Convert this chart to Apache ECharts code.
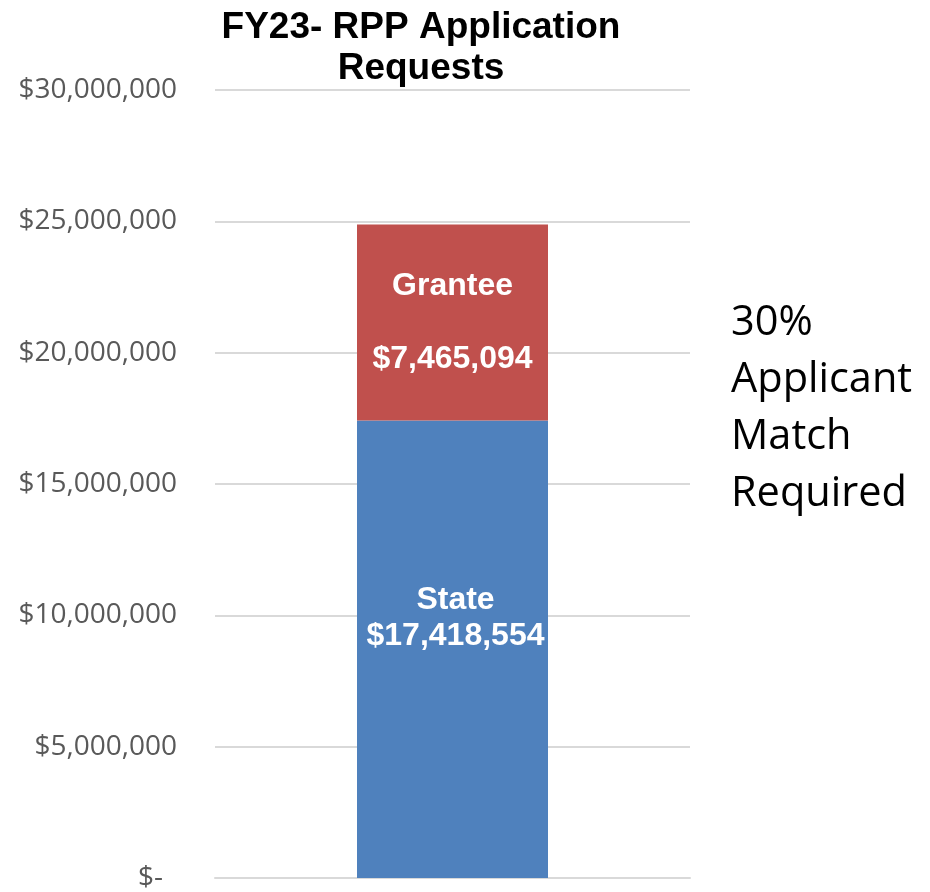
<!DOCTYPE html>
<html>
<head>
<meta charset="utf-8">
<script src="https://cdn.jsdelivr.net/npm/echarts@6/dist/echarts.min.js"></script>
<style>
html,body{margin:0;padding:0;background:#fff;}
#chart{width:930px;height:892px;}
</style>
</head>
<body>
<div id="chart"></div>
<script>
var categories = [''];
var stateValues = [17418554];
var granteeValues = [7465094];
var seriesNames = ['State', 'Grantee'];
var chartTitle = 'FY23- RPP Application\nRequests';
var sideNote = '30%\nApplicant\nMatch\nRequired';
var yMin = 0, yMax = 30000000, yStep = 5000000;

function money(v) {
  return '$' + Math.round(v).toLocaleString('en-US');
}

var chart = echarts.init(document.getElementById('chart'));
chart.setOption({
  animation: false,
  backgroundColor: '#ffffff',
  title: [{
    text: chartTitle,
    left: 416,
    top: 2,
    textAlign: 'center',
    textStyle: {fontFamily: 'Liberation Sans', fontWeight: 'bold', fontSize: 37, lineHeight: 41, color: '#000000'}
  }, {
    text: sideNote,
    left: 726,
    top: 290,
    textStyle: {fontFamily: 'Open Sans', fontWeight: 'normal', fontSize: 41.5, lineHeight: 57, color: '#000000'}
  }],
  grid: {left: 215, right: 240, top: 90, bottom: 13, containLabel: false},
  xAxis: {
    type: 'category',
    data: categories,
    axisLine: {show: true, lineStyle: {color: '#D9D9D9', width: 2}},
    axisTick: {show: false},
    axisLabel: {show: false}
  },
  yAxis: {
    type: 'value',
    min: yMin, max: yMax, interval: yStep,
    axisLine: {show: false},
    axisTick: {show: false},
    splitLine: {lineStyle: {color: '#D9D9D9', width: 2}},
    axisLabel: {
      margin: 38,
      fontFamily: 'Open Sans',
      fontSize: 28,
      color: '#595959',
      formatter: function (v) {
        return v === 0 ? '{z|$-}' : money(v);
      },
      rich: {z: {fontFamily: 'Open Sans', fontSize: 28, color: '#595959', padding: [0, 14, 0, 0]}}
    }
  },
  series: [{
    name: seriesNames[0],
    type: 'bar',
    stack: 'total',
    data: stateValues,
    barWidth: 191,
    itemStyle: {color: '#4F81BD'},
    label: {
      show: true,
      position: 'inside',
      offset: [3, -31],
      fontFamily: 'Liberation Sans',
      fontWeight: 'bold',
      fontSize: 32,
      lineHeight: 36,
      color: '#ffffff',
      formatter: function (p) { return p.seriesName + '\n' + money(p.value); }
    }
  }, {
    name: seriesNames[1],
    type: 'bar',
    stack: 'total',
    data: granteeValues,
    barWidth: 191,
    itemStyle: {color: '#C0504D'},
    label: {
      show: true,
      position: 'inside',
      fontFamily: 'Liberation Sans',
      fontWeight: 'bold',
      fontSize: 32,
      lineHeight: 36.5,
      color: '#ffffff',
      formatter: function (p) { return p.seriesName + '\n\n' + money(p.value); }
    }
  }]
});
</script>
</body>
</html>
